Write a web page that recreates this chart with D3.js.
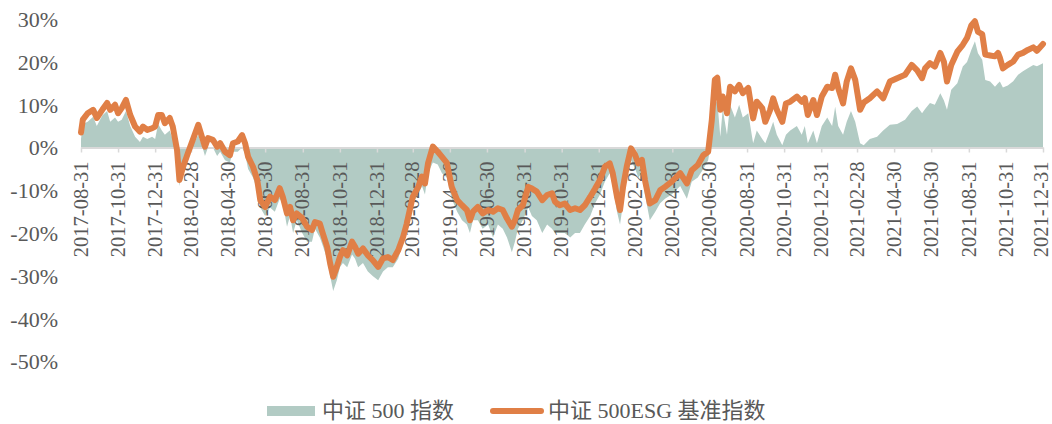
<!DOCTYPE html>
<html>
<head>
<meta charset="utf-8">
<script src="https://cdn.jsdelivr.net/npm/d3@7"></script>
<style>
  html, body { margin: 0; padding: 0; background: #fff; }
  svg { display: block; }
  text { font-family: "Liberation Serif", "Noto Sans CJK SC", serif; fill: #595959; }
</style>
</head>
<body>
<svg id="chart" width="1052" height="424"></svg>
<script>
const seriesNames = ["中证 500 指数", "中证 500ESG 基准指数"];

const dates = [
"2017-08-31","2017-09-03","2017-09-11","2017-09-20","2017-09-26","2017-10-05","2017-10-13","2017-10-18","2017-10-26","2017-10-31",
"2017-11-06","2017-11-13","2017-11-20","2017-11-28","2017-12-06","2017-12-11","2017-12-18","2017-12-26","2017-12-31","2018-01-05",
"2018-01-11","2018-01-16","2018-01-24","2018-01-29","2018-02-05","2018-02-09","2018-02-15","2018-02-23","2018-03-03","2018-03-12",
"2018-03-18","2018-03-23","2018-03-28","2018-04-05","2018-04-12","2018-04-17","2018-04-25","2018-05-03","2018-05-08","2018-05-16",
"2018-05-23","2018-05-28","2018-06-02","2018-06-10","2018-06-17","2018-06-22","2018-06-30","2018-07-08","2018-07-16","2018-07-24",
"2018-07-29","2018-08-05","2018-08-10","2018-08-15","2018-08-21","2018-08-30","2018-09-07","2018-09-15","2018-09-20","2018-09-28",
"2018-10-03","2018-10-10","2018-10-15","2018-10-20","2018-10-26","2018-10-31","2018-11-05","2018-11-12","2018-11-20","2018-11-25",
"2018-11-30","2018-12-08","2018-12-16","2018-12-24","2019-01-02","2019-01-10","2019-01-18","2019-01-26","2019-02-04","2019-02-12",
"2019-02-18","2019-02-23","2019-02-28","2019-03-09","2019-03-15","2019-03-20","2019-03-25","2019-04-02","2019-04-10","2019-04-17",
"2019-04-25","2019-05-03","2019-05-12","2019-05-20","2019-05-28","2019-06-02","2019-06-07","2019-06-15","2019-06-23","2019-07-02",
"2019-07-10","2019-07-18","2019-07-26","2019-08-02","2019-08-10","2019-08-15","2019-08-20","2019-08-28","2019-09-06","2019-09-12",
"2019-09-20","2019-09-29","2019-10-07","2019-10-15","2019-10-20","2019-10-28","2019-11-05","2019-11-14","2019-11-22","2019-11-30",
"2019-12-08","2019-12-17","2019-12-25","2020-01-02","2020-01-10","2020-01-18","2020-01-23","2020-01-30","2020-02-04","2020-02-09",
"2020-02-15","2020-02-22","2020-02-29","2020-03-05","2020-03-11","2020-03-16","2020-03-24","2020-04-02","2020-04-10","2020-04-18",
"2020-04-29","2020-05-13","2020-05-24","2020-06-01","2020-06-11","2020-06-20","2020-06-28","2020-07-04","2020-07-09","2020-07-13",
"2020-07-18","2020-07-22","2020-07-29","2020-08-03","2020-08-11","2020-08-18","2020-08-24","2020-09-02","2020-09-10","2020-09-16",
"2020-09-25","2020-09-30","2020-10-08","2020-10-13","2020-10-19","2020-10-28","2020-11-03","2020-11-10","2020-11-21","2020-11-29",
"2020-12-04","2020-12-09","2020-12-18","2020-12-24","2021-01-01","2021-01-10","2021-01-18","2021-01-23","2021-01-28","2021-02-05",
"2021-02-11","2021-02-18","2021-02-25","2021-03-05","2021-03-11","2021-03-21","2021-04-02","2021-04-12","2021-04-23","2021-05-05",
"2021-05-18","2021-05-29","2021-06-07","2021-06-15","2021-06-20","2021-06-28","2021-07-06","2021-07-15","2021-07-21","2021-07-26",
"2021-08-02","2021-08-12","2021-08-21","2021-08-28","2021-09-04","2021-09-10","2021-09-15","2021-09-22","2021-09-27","2021-10-05",
"2021-10-13","2021-10-18","2021-10-21","2021-10-26","2021-11-03","2021-11-12","2021-11-20","2021-11-28","2021-12-06","2021-12-15",
"2021-12-21","2021-12-31"
];

// 中证 500 指数 (area), %
const csi500 = [
2.0,5.5,6.0,7.2,5.0,7.5,8.5,6.0,7.0,6.0,
6.5,8.5,5.0,2.5,1.3,2.5,2.0,2.5,2.0,5.5,
4.0,3.0,4.0,2.0,-2.0,-9.0,-5.0,-2.0,0.5,3.0,
0.5,-2.0,0.0,0.0,-2.0,-1.0,-3.0,-3.5,-1.0,-1.0,
0.0,-1.5,-5.0,-7.0,-10.0,-14.0,-16.0,-14.0,-15.0,-12.0,
-13.0,-18.5,-16.0,-20.0,-17.0,-20.0,-22.0,-22.0,-19.0,-21.0,
-23.0,-26.0,-30.0,-33.5,-31.0,-28.0,-27.0,-28.0,-25.0,-26.0,
-28.0,-27.0,-29.0,-30.0,-31.0,-29.0,-28.0,-28.0,-26.0,-22.0,
-19.0,-16.0,-13.0,-11.0,-9.0,-11.0,-6.0,-3.5,-4.0,-6.0,
-7.0,-12.0,-15.0,-17.0,-18.0,-20.0,-17.0,-17.0,-19.0,-18.0,
-21.0,-18.0,-19.0,-21.0,-24.5,-22.0,-19.0,-17.0,-14.0,-16.0,
-17.0,-20.0,-18.0,-19.0,-20.0,-20.0,-20.0,-21.0,-20.0,-20.0,
-18.0,-16.0,-13.0,-11.0,-8.0,-6.0,-9.0,-15.0,-18.0,-13.0,
-7.0,-3.0,-5.0,-7.0,-6.0,-11.0,-17.0,-15.0,-13.0,-12.0,
-11.0,-9.0,-12.0,-8.0,-7.0,-5.0,-3.0,2.0,10.0,11.0,
2.5,9.0,3.0,10.0,7.0,10.0,7.0,8.0,1.0,4.0,
2.0,1.0,4.0,6.0,3.0,0.5,3.0,4.0,5.0,3.0,
5.0,1.0,4.0,1.0,5.0,7.0,5.0,9.5,5.0,3.0,
6.0,8.5,6.0,1.0,0.5,2.0,2.5,4.0,5.3,5.5,
6.5,8.5,9.6,8.0,9.0,10.4,10.0,12.7,11.0,8.8,
13.5,15.0,18.9,20.0,22.8,24.8,22.0,20.5,15.8,15.4,
14.2,15.0,15.4,14.0,14.5,15.5,17.0,17.8,18.5,19.3,
19.0,19.7
];

// 中证 500ESG 基准指数 (line), %
const esg500 = [
3.5,6.5,8.0,8.8,6.9,8.8,10.4,8.8,10.0,8.0,
9.2,11.1,7.6,4.9,3.7,4.9,4.1,4.5,4.9,7.6,
7.6,5.7,6.9,4.9,-0.6,-7.6,-4.5,-1.3,1.8,5.3,
2.5,0.2,2.2,1.8,0.2,1.0,-1.0,-1.8,1.0,1.4,
2.9,1.0,-2.2,-4.5,-7.6,-12.3,-13.9,-11.5,-12.3,-9.5,
-11.5,-15.4,-13.9,-17.0,-15.4,-16.5,-18.5,-19.3,-17.4,-17.8,
-20.1,-23.2,-27.1,-30.2,-27.9,-25.6,-24.0,-25.2,-22.0,-23.2,
-24.8,-23.6,-25.2,-26.3,-27.9,-25.9,-25.6,-26.3,-24.0,-20.9,
-17.8,-14.6,-11.5,-9.2,-6.8,-8.4,-3.7,0.2,-1.0,-2.2,
-3.6,-9.2,-12.3,-13.5,-14.6,-17.0,-15.0,-13.9,-15.4,-14.6,
-15.0,-14.2,-14.6,-16.6,-18.5,-17.0,-14.6,-13.5,-9.2,-9.6,
-10.3,-12.3,-11.1,-10.7,-12.7,-13.5,-13.1,-14.6,-14.2,-14.6,
-13.5,-11.5,-9.6,-7.6,-4.5,-3.7,-6.0,-11.5,-14.6,-9.2,
-4.5,-0.2,-1.8,-3.7,-2.9,-7.6,-13.1,-12.3,-10.0,-9.2,
-8.0,-6.0,-8.4,-5.3,-4.1,-1.8,-1.0,6.4,15.8,16.3,
8.8,11.9,8.0,14.2,13.1,14.6,12.7,13.9,6.8,10.7,
9.2,6.0,8.8,11.5,8.8,6.0,10.3,10.7,11.9,10.7,
11.5,7.6,11.1,7.6,11.9,14.2,13.9,17.0,13.9,10.3,
15.4,18.5,15.8,8.8,10.5,11.5,13.1,11.5,15.4,16.2,
17.0,19.3,18.0,16.2,18.5,19.7,18.9,22.1,20.0,15.4,
19.3,22.4,24.0,25.6,28.5,29.5,27.0,26.5,21.7,21.5,
21.3,22.1,21.0,18.5,19.3,20.1,21.7,22.1,22.8,23.4,
22.6,24.2
];

const xTickLabels = [
"2017-08-31","2017-10-31","2017-12-31","2018-02-28","2018-04-30","2018-06-30","2018-08-31",
"2018-10-31","2018-12-31","2019-02-28","2019-04-30","2019-06-30","2019-08-31","2019-10-31",
"2019-12-31","2020-02-29","2020-04-30","2020-06-30","2020-08-31","2020-10-31","2020-12-31",
"2021-02-28","2021-04-30","2021-06-30","2021-08-31","2021-10-31","2021-12-31"
];
const yTicks = [30, 20, 10, 0, -10, -20, -30, -40, -50];

const parse = d3.timeParse("%Y-%m-%d");
const fmt = d3.timeFormat("%Y-%m-%d");
const data = dates.map((d, i) => ({ date: parse(d), csi: csi500[i], esg: esg500[i] }));

const AREA_COLOR = "#b2cbc4";
const LINE_COLOR = "#e07f46";
const AXIS_COLOR = "#d9d9d9";

const svg = d3.select("#chart");

const x = d3.scaleTime()
  .domain([parse(xTickLabels[0]), parse(xTickLabels[xTickLabels.length - 1])])
  .range([81, 1043]);
const y = d3.scaleLinear().domain([-50, 30]).range([361.5, 19.1]);

// area
svg.append("path")
  .datum(data)
  .attr("fill", AREA_COLOR)
  .attr("d", d3.area().x(d => x(d.date)).y0(y(0)).y1(d => y(d.csi)));

// x axis at zero
const xAxis = svg.append("g")
  .attr("transform", `translate(0,${y(0)})`)
  .call(d3.axisBottom(x)
    .tickValues(xTickLabels.map(parse))
    .tickFormat(fmt)
    .tickSize(5)
    .tickSizeOuter(0));
xAxis.select(".domain").attr("stroke", AXIS_COLOR).attr("stroke-width", 2);
xAxis.selectAll(".tick line").attr("stroke", AXIS_COLOR).attr("stroke-width", 1.5);
const nTicks = xTickLabels.length;
xAxis.selectAll(".tick text")
  .attr("transform", "rotate(-90)")
  .attr("text-anchor", "end")
  .attr("x", -14)
  .attr("y", 0)
  .attr("dy", (d, i) => i === nTicks - 1 ? "0.22em" : "0.3em")
  .style("font-family", '"Liberation Serif", serif')
  .style("font-size", "20.5px")
  .attr("fill", "#595959");

// y axis
const yAxis = svg.append("g")
  .attr("transform", "translate(58,0)")
  .call(d3.axisLeft(y).tickValues(yTicks).tickFormat(d => d + "%").tickSize(0).tickPadding(0));
yAxis.select(".domain").remove();
yAxis.selectAll(".tick text")
  .style("font-family", '"Liberation Serif", serif')
  .style("font-size", "22px")
  .attr("fill", "#595959")
  .attr("dy", "0.34em");

// line
svg.append("path")
  .datum(data)
  .attr("fill", "none")
  .attr("stroke", LINE_COLOR)
  .attr("stroke-width", 6)
  .attr("stroke-linejoin", "round")
  .attr("stroke-linecap", "round")
  .attr("d", d3.line().x(d => x(d.date)).y(d => y(d.esg)));

// legend
const legend = svg.append("g");
legend.append("rect")
  .attr("x", 267).attr("y", 406).attr("width", 48).attr("height", 10)
  .attr("fill", AREA_COLOR);
legend.append("text")
  .attr("x", 322).attr("y", 418)
  .style("font-size", "22px")
  .text(seriesNames[0]);
legend.append("line")
  .attr("x1", 493).attr("x2", 541).attr("y1", 411).attr("y2", 411)
  .attr("stroke", LINE_COLOR).attr("stroke-width", 6).attr("stroke-linecap", "round");
legend.append("text")
  .attr("x", 548).attr("y", 418)
  .style("font-size", "22px")
  .text(seriesNames[1]);
</script>
</body>
</html>
